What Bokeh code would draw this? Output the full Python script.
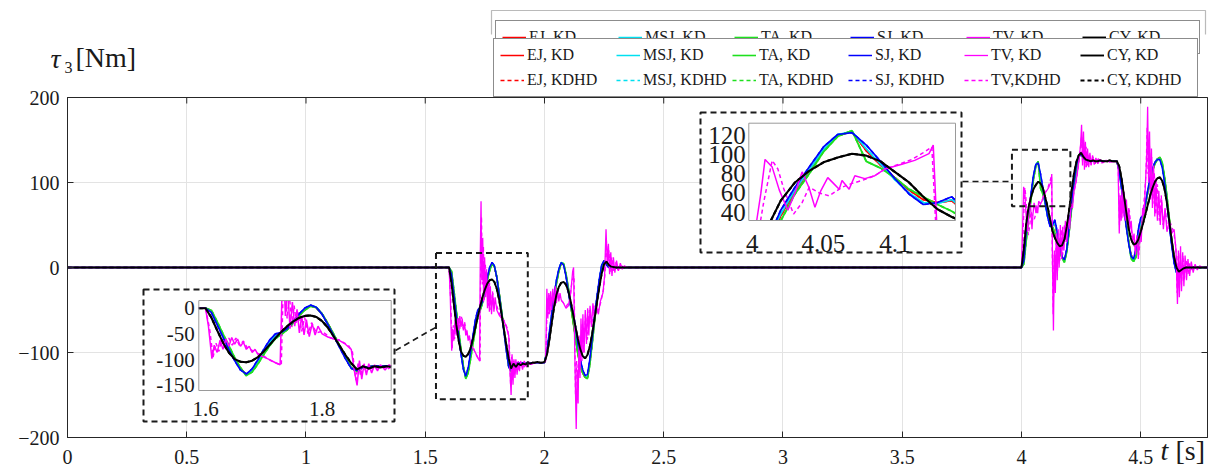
from bokeh.plotting import figure
from bokeh.models import (Range1d, LinearAxis, Grid, FixedTicker, CustomJSTickFormatter,
                          Label, Legend, LegendItem, PolyAnnotation)
from bokeh.core.properties import value
from bokeh.embed import file_html
from bokeh.resources import INLINE

# ---------------------------------------------------------------- data
# sample instants of the smooth joint-torque trajectories [s]
T_A = [1.60, 1.61, 1.62, 1.63, 1.64, 1.65, 1.66, 1.67, 1.68, 1.69,
       1.70, 1.71, 1.72, 1.73, 1.74, 1.75, 1.76, 1.77, 1.78, 1.79,
       1.80, 1.81, 1.82, 1.83, 1.84, 1.85, 1.86, 1.87, 1.88, 1.89,
       1.90, 1.91, 1.92, 1.93, 1.94, 1.95, 1.96, 1.97, 1.98, 1.99,
       2.00, 2.01, 2.02, 2.03, 2.04, 2.05, 2.06, 2.07, 2.08, 2.09,
       2.10, 2.11, 2.12, 2.13, 2.14, 2.15, 2.16, 2.17, 2.18, 2.19,
       2.20, 2.21, 2.22, 2.23, 2.24, 2.25, 2.26, 2.27, 2.28]
T_B = [4.00, 4.01, 4.02, 4.03, 4.04, 4.05, 4.06, 4.07, 4.08, 4.09,
       4.10, 4.11, 4.12, 4.13, 4.14, 4.15, 4.16, 4.17, 4.18, 4.19,
       4.20, 4.21, 4.22, 4.23, 4.24, 4.25, 4.26, 4.27, 4.28, 4.29,
       4.30, 4.31, 4.32, 4.33, 4.34, 4.35, 4.36, 4.37, 4.38, 4.39,
       4.40, 4.41, 4.42, 4.43, 4.44, 4.45, 4.46, 4.47, 4.48, 4.49,
       4.50, 4.51, 4.52, 4.53, 4.54, 4.55, 4.56, 4.57, 4.58, 4.59,
       4.60, 4.61, 4.62, 4.63, 4.64, 4.65, 4.66, 4.67, 4.68, 4.69,
       4.70]
T_REST = [0.0, 2.30, 4.78]          # robot at rest: tau3 = 0

# tau3 [Nm] of the smooth planners on T_A / T_B
EJ_A = [0, -5, -29, -53, -76, -98, -117, -129, -122, -105,
        -86, -69, -55, -50, -41, -28, -14, -3, 5, 1,
        -11, -30, -52, -74, -96, -116, -122, -115, -114, -112,
        -113, -112, -113, -112, -112, -112, -112, -112, -112, -112,
        -112, -100, -80, -58, -37, -18, -4, 5, 4, -8,
        -25, -45, -63, -82, -100, -115, -124, -129, -130, -113,
        -88, -62, -37, -16, 1, 8, 4, 1, 0]
MSJ_A = [0, -6, -30, -54, -77, -99, -118, -129, -121, -104,
         -85, -67, -54, -49, -41, -27, -13, -2, 5, 2,
         -11, -31, -52, -74, -96, -116, -122, -115, -114, -112,
         -113, -112, -113, -112, -112, -112, -112, -112, -112, -112,
         -112, -99, -79, -57, -36, -17, -3, 6, 4, -8,
         -26, -45, -60, -78, -97, -113, -123, -128, -129, -112,
         -87, -61, -36, -15, 2, 8, 4, 1, 0]
TA_A = [0, -4, -26, -50, -73, -96, -116, -131, -124, -108,
        -90, -73, -59, -51, -42, -29, -15, -4, 4, 1,
        -11, -30, -51, -73, -95, -116, -123, -115, -114, -112,
        -113, -112, -113, -112, -112, -112, -112, -112, -112, -112,
        -112, -101, -81, -59, -38, -19, -5, 5, 5, -7,
        -24, -44, -64, -84, -102, -116, -124, -129, -131, -115,
        -90, -64, -39, -17, 0, 8, 4, 1, 0]
SJ_A = [0, -8, -32, -56, -80, -102, -120, -128, -118, -100,
        -80, -62, -50, -47, -40, -26, -12, 0, 6, 2,
        -12, -32, -54, -76, -98, -117, -121, -115, -114, -112,
        -113, -112, -113, -112, -112, -112, -112, -112, -112, -112,
        -112, -98, -77, -55, -34, -15, -2, 6, 3, -10,
        -28, -46, -52, -70, -90, -108, -120, -127, -126, -108,
        -84, -58, -34, -13, 3, 8, 3, 0, 0]
CY_A = [0, -18, -43, -67, -86, -99, -104, -105, -102, -95,
        -84, -71, -58, -46, -35, -26, -19, -15, -14, -17,
        -25, -38, -55, -73, -91, -107, -119, -113, -117, -113,
        -115, -113, -114, -112, -113, -112, -112, -111, -112, -112,
        -111, -103, -86, -66, -47, -32, -23, -18, -17, -20,
        -28, -40, -55, -70, -84, -96, -104, -107, -103, -93,
        -78, -60, -41, -23, -7, 4, 7, 3, 1]

EJ_B = [0, 6, 36, 62, 83, 104, 120, 124, 104, 89,
        76, 63, 53, 50, 52, 38, 23, 12, 8, 20,
        45, 71, 97, 118, 130, 133, 128, 126, 125, 125,
        125, 125, 125, 125, 125, 125, 125, 125, 125, 125,
        125, 114, 94, 71, 49, 29, 15, 9, 16, 34,
        50, 60, 74, 89, 103, 115, 123, 128, 129, 121,
        104, 81, 55, 30, 8, -5, -6, -2, 0, 0,
        0]
MSJ_B = [0, 7, 38, 63, 84, 105, 121, 124, 106, 90,
         74, 60, 50, 49, 53, 40, 24, 12, 8, 20,
         46, 72, 98, 118, 130, 133, 128, 126, 125, 125,
         125, 125, 125, 125, 125, 125, 125, 125, 125, 125,
         125, 114, 93, 70, 48, 28, 14, 9, 18, 38,
         54, 62, 75, 90, 104, 116, 124, 128, 128, 120,
         102, 79, 53, 28, 7, -6, -6, -2, 0, 0,
         0]
TA_B = [0, 4, 31, 59, 80, 103, 119, 125, 93, 86,
        76, 64, 56, 48, 41, 32, 20, 11, 6, 18,
        42, 68, 94, 116, 130, 134, 129, 126, 125, 125,
        125, 125, 125, 125, 125, 125, 125, 125, 125, 125,
        125, 115, 95, 72, 50, 30, 10, 7, 12, 26,
        42, 58, 74, 89, 103, 114, 122, 127, 130, 124,
        107, 84, 58, 32, 10, -5, -7, -3, -1, 0,
        0]
SJ_B = [0, 8, 42, 66, 87, 108, 121, 123, 110, 93,
        75, 59, 48, 50, 56, 42, 26, 13, 9, 22,
        48, 75, 100, 120, 131, 133, 128, 126, 125, 125,
        125, 125, 125, 125, 125, 125, 125, 125, 125, 125,
        125, 113, 92, 68, 46, 27, 13, 10, 22, 45,
        58, 62, 76, 92, 106, 117, 124, 127, 127, 118,
        100, 76, 50, 25, 5, -6, -6, -2, 0, 0,
        0]
CY_B = [0, 22, 52, 71, 83, 92, 97, 101, 99, 93,
        82, 71, 56, 43, 35, 29, 25, 26, 33, 48,
        68, 90, 110, 124, 132, 135, 130, 127, 126, 125,
        126, 125, 125, 126, 125, 125, 125, 126, 125, 125,
        125, 119, 104, 84, 64, 45, 33, 27, 28, 33,
        42, 52, 63, 74, 85, 94, 101, 105, 106, 102,
        92, 76, 54, 32, 12, 0, -5, -3, -1, 0,
        0]

# tau3 [Nm] of the trapezoidal-velocity planner (time [s], torque [Nm])
TV_KD = [(0.0, 0), (1.600, 0), (1.605, -35), (1.611, -98), (1.615, -72), (1.620, -86),
         (1.625, -62), (1.630, -80), (1.635, -60), (1.640, -74), (1.645, -57), (1.650, -70),
         (1.655, -60), (1.660, -74), (1.665, -66), (1.670, -80), (1.675, -74), (1.680, -86),
         (1.685, -80), (1.690, -90), (1.700, -95), (1.710, -100), (1.720, -106), (1.728, -110),
         (1.731, 20), (1.734, 78), (1.737, -15), (1.741, 35), (1.745, -40), (1.749, 12),
         (1.753, -35), (1.757, -2), (1.761, -48), (1.765, -15), (1.769, -52), (1.773, -22),
         (1.778, -55), (1.783, -30), (1.788, -52), (1.793, -35), (1.800, -50), (1.810, -56),
         (1.820, -60), (1.830, -63), (1.840, -70), (1.850, -80), (1.855, -120), (1.860, -150),
         (1.864, -102), (1.868, -138), (1.872, -108), (1.876, -130), (1.880, -108), (1.885, -126),
         (1.890, -110), (1.895, -122), (1.900, -110), (1.908, -120), (1.915, -110), (1.925, -117),
         (1.935, -111), (1.945, -114), (1.960, -112), (2.000, -112), (2.005, -110), (2.010, -25),
         (2.014, -60), (2.018, -30), (2.022, -55), (2.026, -28), (2.030, -50), (2.035, -25),
         (2.040, -45), (2.045, -22), (2.050, -42), (2.055, -25), (2.060, -40), (2.065, -30),
         (2.070, -38), (2.080, -42), (2.090, -48), (2.100, -45), (2.110, -30), (2.118, -5),
         (2.122, 0), (2.127, -100), (2.133, -190), (2.137, -120), (2.141, -160), (2.145, -80),
         (2.149, -130), (2.153, -60), (2.157, -110), (2.161, -55), (2.166, -100), (2.171, -50),
         (2.176, -90), (2.181, -48), (2.186, -80), (2.191, -45), (2.197, -70), (2.203, -42),
         (2.210, -60), (2.218, -45), (2.226, -55), (2.234, -40), (2.245, -30), (2.252, -10),
         (2.258, 45), (2.263, 5), (2.268, 28), (2.273, -8), (2.278, 18), (2.283, -10),
         (2.289, 12), (2.295, -6), (2.302, 8), (2.310, -4), (2.318, 5), (2.326, -2),
         (2.335, 2), (2.345, 0), (4.000, 0), (4.002, 20), (4.006, 59), (4.009, 95),
         (4.014, 87), (4.019, 63), (4.025, 42), (4.030, 60), (4.035, 82), (4.040, 65),
         (4.044, 45), (4.048, 62), (4.053, 76), (4.057, 70), (4.061, 64), (4.063, 73),
         (4.068, 64), (4.072, 78), (4.079, 75), (4.086, 78), (4.093, 85), (4.105, 90),
         (4.114, 94), (4.124, 101), (4.127, 110), (4.130, 10), (4.134, -74), (4.138, 20),
         (4.142, -30), (4.146, 40), (4.150, -15), (4.154, 45), (4.158, 0), (4.163, 50),
         (4.168, 10), (4.173, 48), (4.178, 20), (4.184, 55), (4.190, 30), (4.196, 62),
         (4.202, 45), (4.208, 75), (4.214, 70), (4.220, 90), (4.228, 100), (4.236, 115),
         (4.242, 128), (4.248, 145), (4.252, 168), (4.256, 120), (4.260, 160), (4.264, 115),
         (4.268, 148), (4.272, 118), (4.277, 140), (4.282, 118), (4.287, 135), (4.292, 120),
         (4.298, 132), (4.305, 121), (4.312, 129), (4.320, 122), (4.330, 127), (4.340, 123),
         (4.355, 126), (4.370, 124), (4.400, 125), (4.405, 120), (4.410, 40), (4.414, 85),
         (4.418, 55), (4.422, 92), (4.426, 60), (4.430, 88), (4.435, 55), (4.440, 80),
         (4.445, 50), (4.450, 70), (4.455, 45), (4.460, 55), (4.466, 30), (4.472, 40),
         (4.478, 15), (4.484, 38), (4.490, 10), (4.496, 45), (4.502, 30), (4.508, 70),
         (4.514, 60), (4.520, 100), (4.525, 130), (4.529, 189), (4.533, 100), (4.537, 160),
         (4.541, 80), (4.545, 140), (4.549, 70), (4.554, 120), (4.559, 60), (4.564, 105),
         (4.570, 55), (4.576, 90), (4.582, 50), (4.588, 80), (4.595, 45), (4.602, 70),
         (4.610, 42), (4.620, 55), (4.630, 40), (4.640, 45), (4.648, 20), (4.654, -43),
         (4.658, 20), (4.662, -35), (4.667, 25), (4.671, -28), (4.676, 18), (4.681, -22),
         (4.686, 14), (4.692, -15), (4.698, 10), (4.705, -10), (4.712, 7), (4.720, -6),
         (4.728, 4), (4.737, -3), (4.747, 2), (4.760, 0), (4.780, 0)]
TV_KDHD = [(0.0, 0), (1.600, 0), (1.607, -40), (1.613, -95), (1.618, -68), (1.623, -84),
           (1.628, -60), (1.634, -78), (1.640, -58), (1.646, -72), (1.652, -58), (1.658, -72),
           (1.665, -64), (1.672, -78), (1.680, -82), (1.690, -88), (1.700, -93), (1.712, -102),
           (1.724, -108), (1.730, -110), (1.733, 30), (1.736, 60), (1.740, -20), (1.744, 25),
           (1.748, -38), (1.752, 5), (1.756, -30), (1.760, -8), (1.765, -45), (1.770, -18),
           (1.776, -50), (1.782, -28), (1.790, -48), (1.800, -45), (1.815, -58), (1.830, -62),
           (1.845, -72), (1.852, -85), (1.858, -140), (1.862, -105), (1.866, -132), (1.871, -110),
           (1.876, -125), (1.882, -110), (1.890, -120), (1.900, -112), (1.912, -118), (1.925, -112),
           (1.940, -114), (1.960, -112), (2.000, -112), (2.006, -105), (2.012, -35), (2.017, -55),
           (2.022, -32), (2.028, -52), (2.034, -30), (2.042, -46), (2.050, -28), (2.060, -38),
           (2.075, -40), (2.090, -46), (2.105, -40), (2.116, -15), (2.124, -10), (2.130, -150),
           (2.135, -110), (2.140, -140), (2.146, -85), (2.152, -120), (2.158, -65), (2.165, -100),
           (2.172, -55), (2.180, -85), (2.188, -50), (2.198, -68), (2.208, -45), (2.220, -55),
           (2.235, -42), (2.248, -25), (2.254, -5), (2.259, 35), (2.265, 0), (2.270, 20),
           (2.276, -5), (2.282, 12), (2.290, -5), (2.298, 6), (2.308, -3), (2.320, 2),
           (2.340, 0), (4.000, 0), (4.004, 15), (4.008, 50), (4.014, 94), (4.018, 85),
           (4.022, 65), (4.029, 38), (4.035, 50), (4.040, 66), (4.047, 60), (4.054, 57),
           (4.063, 66), (4.070, 70), (4.077, 73), (4.086, 78), (4.093, 85), (4.103, 90),
           (4.112, 95), (4.120, 102), (4.126, 108), (4.129, 20), (4.133, -55), (4.137, 15),
           (4.141, -20), (4.146, 35), (4.151, -5), (4.156, 40), (4.161, 8), (4.167, 45),
           (4.173, 15), (4.180, 50), (4.187, 30), (4.194, 58), (4.202, 48), (4.210, 72),
           (4.220, 88), (4.230, 102), (4.240, 122), (4.247, 140), (4.252, 155), (4.256, 125),
           (4.261, 150), (4.266, 118), (4.271, 142), (4.277, 120), (4.284, 134), (4.292, 121),
           (4.300, 130), (4.310, 122), (4.322, 128), (4.335, 123), (4.350, 126), (4.400, 125),
           (4.406, 115), (4.411, 50), (4.416, 82), (4.421, 58), (4.426, 88), (4.432, 58),
           (4.438, 78), (4.445, 52), (4.452, 68), (4.460, 45), (4.468, 35), (4.476, 20),
           (4.484, 35), (4.492, 15), (4.500, 40), (4.508, 60), (4.516, 85), (4.522, 110),
           (4.527, 165), (4.531, 110), (4.536, 150), (4.541, 85), (4.546, 130), (4.551, 75),
           (4.557, 112), (4.563, 62), (4.570, 98), (4.578, 55), (4.586, 85), (4.594, 50),
           (4.603, 68), (4.612, 45), (4.625, 52), (4.638, 42), (4.647, 25), (4.653, -30),
           (4.657, 15), (4.661, -25), (4.666, 18), (4.671, -20), (4.677, 14), (4.683, -14),
           (4.690, 9), (4.698, -8), (4.706, 5), (4.716, -4), (4.728, 2), (4.745, 0),
           (4.780, 0)]

METHODS = ["EJ", "MSJ", "TA", "SJ", "TV", "CY"]
SMOOTH = {"EJ": (EJ_A, EJ_B), "MSJ": (MSJ_A, MSJ_B), "TA": (TA_A, TA_B),
          "SJ": (SJ_A, SJ_B), "CY": (CY_A, CY_B)}
KD_LABELS = ["EJ, KD", "MSJ, KD", "TA, KD", "SJ, KD", "TV, KD", "CY, KD"]
KDHD_LABELS = ["EJ, KDHD", "MSJ, KDHD", "TA, KDHD", "SJ, KDHD", "TV,KDHD", "CY, KDHD"]

X_TICKS = [0, 0.5, 1, 1.5, 2, 2.5, 3, 3.5, 4, 4.5]
Y_TICKS = [-200, -100, 0, 100, 200]
IN1_XTICKS, IN1_XLABELS = [1.6, 1.8], ["1.6", "1.8"]
IN1_YTICKS, IN1_YLABELS = [0, -50, -100, -150], ["0", "-50", "-100", "-150"]
IN2_XTICKS, IN2_XLABELS = [4, 4.05, 4.1], ["4", "4.05", "4.1"]
IN2_YTICKS, IN2_YLABELS = [120, 100, 80, 60, 40], ["120", "100", "80", "60", "40"]

# ---------------------------------------------------------------- style / geometry
COLORS = {"EJ": "#ff0000", "MSJ": "#00e0f0", "TA": "#1ee01e", "SJ": "#0000ff",
          "TV": "#ff00ff", "CY": "#000000"}
WIDTH = {"EJ": 1.5, "MSJ": 1.5, "TA": 1.6, "SJ": 1.5, "TV": 1.3, "CY": 1.9}
SERIF = "Liberation Serif"
INK = "#1a1a1a"
AX = "#262626"

W, H = 1215, 472
FL, FR, FT, FB = 67, 1207, 97, 437          # data box on the canvas [px]
XMIN, XMAX, YMIN, YMAX = 0.0, 4.78, -200.0, 200.0
PPX = (FR - FL) / (XMAX - XMIN)             # px per second
PPY = (FB - FT) / (YMAX - YMIN)             # px per Nm
TICK = 6                                    # inward tick length [px]


def px_t(x):
    return XMIN + (x - FL) / PPX


def px_v(y):
    return YMAX - (y - FT) / PPY


def series(m, hd=False):
    if m == "TV":
        pts = TV_KDHD if hd else TV_KD
        return [q[0] for q in pts], [q[1] for q in pts]
    a, b = SMOOTH[m]    # KD and KDHD torques coincide for the smooth planners
    t = [T_REST[0]] + T_A + [T_REST[1]] + T_B + [T_REST[2]]
    v = [0] + a + [0] + b + [0]
    return t, v


def clip_segment(x0, y0, x1, y1, box):
    xmin, xmax, ymin, ymax = box
    dx, dy = x1 - x0, y1 - y0
    u0, u1 = 0.0, 1.0
    for pk, qk in ((-dx, x0 - xmin), (dx, xmax - x0), (-dy, y0 - ymin), (dy, ymax - y0)):
        if pk == 0:
            if qk < 0:
                return None
        else:
            r = qk / pk
            if pk < 0:
                u0 = max(u0, r)
            else:
                u1 = min(u1, r)
    if u0 > u1:
        return None
    return x0 + u0 * dx, y0 + u0 * dy, x0 + u1 * dx, y0 + u1 * dy


def clip_polyline(xs, ys, box):
    pieces, cx, cy = [], [], []
    for i in range(len(xs) - 1):
        seg = clip_segment(xs[i], ys[i], xs[i + 1], ys[i + 1], box)
        if seg is None:
            if cx:
                pieces.append((cx, cy))
                cx, cy = [], []
            continue
        ax, ay, bx, by = seg
        if cx and abs(cx[-1] - ax) < 1e-12 and abs(cy[-1] - ay) < 1e-12:
            cx.append(bx)
            cy.append(by)
        else:
            if cx:
                pieces.append((cx, cy))
            cx, cy = [ax, bx], [ay, by]
    if cx:
        pieces.append((cx, cy))
    return pieces


# the frame spans the whole canvas; the torque axes sit at fixed locations inside it
p = figure(width=W, height=H, output_backend="svg", toolbar_location=None,
           x_range=Range1d(px_t(0), px_t(W)), y_range=Range1d(px_v(H), px_v(0)),
           x_axis_location=None, y_axis_location=None,
           min_border_left=0, min_border_right=0, min_border_top=0, min_border_bottom=0,
           background_fill_color="white", border_fill_color="white", outline_line_color=None)
p.center = []

fmt = CustomJSTickFormatter(code="return String(tick).replace('-', '\\u2212');")
xaxis = LinearAxis(ticker=FixedTicker(ticks=X_TICKS), formatter=fmt, fixed_location=YMIN,
                   bounds=(XMIN, XMAX), major_label_standoff=12)
yaxis = LinearAxis(ticker=FixedTicker(ticks=Y_TICKS), formatter=fmt, fixed_location=XMIN,
                   bounds=(YMIN, YMAX), major_label_standoff=8)
for ax in (xaxis, yaxis):
    ax.major_label_text_font = SERIF
    ax.major_label_text_font_size = "20px"
    ax.major_label_text_color = INK
    ax.axis_line_color = AX
    ax.major_tick_line_color = AX
    ax.major_tick_in = TICK
    ax.major_tick_out = 0
    ax.minor_tick_line_color = None
p.add_layout(xaxis, "below")
p.add_layout(yaxis, "left")
p.add_layout(Grid(dimension=0, ticker=FixedTicker(ticks=X_TICKS), bounds=(XMIN, XMAX),
                  cross_bounds=(YMIN, YMAX), grid_line_color="#e3e3e3"))
p.add_layout(Grid(dimension=1, ticker=FixedTicker(ticks=Y_TICKS), bounds=(YMIN, YMAX),
                  cross_bounds=(XMIN, XMAX), grid_line_color="#e3e3e3"))

# box and the inward ticks on the top and right sides
p.quad(left=[XMIN], right=[XMAX], bottom=[YMIN], top=[YMAX], fill_color=None,
       line_color=AX, line_width=1)
p.segment(x0=X_TICKS, y0=[YMAX] * len(X_TICKS), x1=X_TICKS,
          y1=[YMAX - TICK / PPY] * len(X_TICKS), line_color=AX)
p.segment(x0=[XMAX] * len(Y_TICKS), y0=Y_TICKS, x1=[XMAX - TICK / PPX] * len(Y_TICKS),
          y1=Y_TICKS, line_color=AX)

# ---------------------------------------------------------------- insets geometry
INSETS = [
    # axes box on canvas (L, T, R, B), data window (x0, x1, y0, y1), outer dashed box
    dict(box=(198.3, 300.0, 390.7, 390.0), win=(1.5885, 1.9185, -160.0, 15.0),
         frame=(143, 289, 394, 421), xt=(IN1_XTICKS, IN1_XLABELS), yt=(IN1_YTICKS, IN1_YLABELS),
         fs="21px", xoff=18, yoff=-4),
    dict(box=(748.3, 122.7, 955.0, 220.0), win=(3.9976, 4.1426, 31.3, 132.8),
         frame=(700, 112, 961, 252), xt=(IN2_XTICKS, IN2_XLABELS), yt=(IN2_YTICKS, IN2_YLABELS),
         fs="25px", xoff=23, yoff=-3),
]

# white panels behind the insets (dashed outer frames)
for ins in INSETS:
    l, t, r, b = ins["frame"]
    p.quad(left=[px_t(l)], right=[px_t(r)], top=[px_v(t)], bottom=[px_v(b)],
           fill_color="white", line_color=INK, line_width=2, line_dash="6 4")

# ---------------------------------------------------------------- main curves
kd_r, hd_r = {}, {}
for m in METHODS:
    t, v = series(m, hd=True)
    hd_r[m] = p.line(t, v, line_color=COLORS[m], line_width=WIDTH[m], line_dash="4 3")
for m in METHODS:
    t, v = series(m)
    kd_r[m] = p.line(t, v, line_color=COLORS[m], line_width=WIDTH[m])

# zoom windows and their leader lines
ZOOM_RECTS = [(1.545, 1.93, -155.0, 17.0), (3.96, 4.205, 72.0, 138.5)]
for x0, x1, y0, y1 in ZOOM_RECTS:
    p.quad(left=[x0], right=[x1], bottom=[y0], top=[y1], fill_color=None,
           line_color=INK, line_width=2, line_dash="6 4")
LEADERS = [((395, 350), (435, 327)), ((962, 181), (1011, 181))]
for (xa, ya), (xb, yb) in LEADERS:
    p.line([px_t(xa), px_t(xb)], [px_v(ya), px_v(yb)], line_color=INK,
           line_width=1.6, line_dash="6 4")

# ---------------------------------------------------------------- inset contents
for k, ins in enumerate(INSETS):
    L, T, R, B = ins["box"]
    x0, x1, y0, y1 = ins["win"]
    sx = (R - L) / (x1 - x0)
    sy = (B - T) / (y1 - y0)
    xn, yn = f"ix{k}", f"iy{k}"
    p.extra_x_ranges[xn] = Range1d(x0 - L / sx, x1 + (W - R) / sx)
    p.extra_y_ranges[yn] = Range1d(y0 - (H - B) / sy, y1 + T / sy)
    box = (x0, x1, y0, y1)
    for hd in (True, False):
        for m in METHODS:
            t, v = series(m, hd)
            pieces = clip_polyline(t, v, box)
            if not pieces:
                continue
            p.multi_line(xs=[q[0] for q in pieces], ys=[q[1] for q in pieces],
                         line_color=COLORS[m], line_width=WIDTH[m] + 0.2,
                         line_dash="4 3" if hd else "solid",
                         x_range_name=xn, y_range_name=yn)
    p.quad(left=[x0], right=[x1], bottom=[y0], top=[y1], fill_color=None,
           line_color="#9a9a9a", line_width=1, x_range_name=xn, y_range_name=yn)
    xt, xl = ins["xt"]
    p.text(x=xt, y=[y0] * len(xt), text=xl, text_align="center", text_baseline="middle",
           y_offset=ins["xoff"], text_font=value(SERIF), text_font_size=ins["fs"],
           text_color=INK, x_range_name=xn, y_range_name=yn)
    yt, yl = ins["yt"]
    p.text(x=[x0] * len(yt), y=yt, text=yl, text_align="right", text_baseline="middle",
           x_offset=ins["yoff"], text_font=value(SERIF), text_font_size=ins["fs"],
           text_color=INK, x_range_name=xn, y_range_name=yn)


# ---------------------------------------------------------------- axis titles
def canvas_label(cx, cy, text, size, style="normal"):
    p.add_layout(Label(x=px_t(cx), y=px_v(cy), text=text, text_font=SERIF,
                       text_font_size=size, text_font_style=style, text_color=INK,
                       text_align="left", text_baseline="middle"))


canvas_label(50, 58, "τ", "28px", "italic")
canvas_label(64, 67, "3", "16px")
canvas_label(75, 57, "[Nm]", "28px")
canvas_label(1160, 450, "t", "28px", "italic")
canvas_label(1175, 450, "[s]", "28px")

# frame of the neighbouring legend just above this one
p.add_layout(PolyAnnotation(xs=[491, 491, 1205, 1205], ys=[H - 40, H - 10, H - 10, H - 40],
                            xs_units="screen", ys_units="screen",
                            fill_alpha=0, line_color=INK, line_width=1.2))


def make_legend(items, loc):
    return Legend(items=items, location=loc, orientation="horizontal", ncols=6,
                  label_text_font=SERIF, label_text_font_size="16px", label_text_color=INK,
                  glyph_width=24, glyph_height=20, label_height=20, label_width=84,
                  label_standoff=3, spacing=5, padding=6, margin=0,
                  border_line_color=INK, border_line_width=1.3,
                  background_fill_color="white", background_fill_alpha=1.0)


upper = make_legend([LegendItem(label=lab, renderers=[kd_r[m]])
                     for lab, m in zip(KD_LABELS, METHODS)], (495, H - 54))
p.add_layout(upper, "center")
# the neighbouring legend disappears below y = 34 px
p.add_layout(PolyAnnotation(xs=[488, 488, 1210, 1210], ys=[H - 41, H - 34, H - 34, H - 41],
                            xs_units="screen", ys_units="screen",
                            fill_color="white", fill_alpha=1.0, line_color=None))
items = [LegendItem(label=lab, renderers=[kd_r[m]]) for lab, m in zip(KD_LABELS, METHODS)]
items += [LegendItem(label=lab, renderers=[hd_r[m]]) for lab, m in zip(KDHD_LABELS, METHODS)]
p.add_layout(make_legend(items, (493, H - FT)), "center")

open("out.html", "w").write(file_html(p, INLINE))
